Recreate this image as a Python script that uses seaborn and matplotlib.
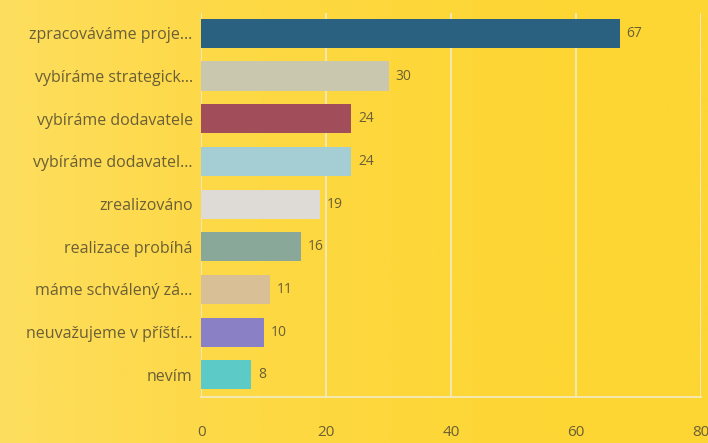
import pandas as pd
import numpy as np
import matplotlib.pyplot as plt
import seaborn as sns

# Survey answers (labels truncated as in the original chart)
labels = [
    'zpracováváme proje…',
    'vybíráme strategick…',
    'vybíráme dodavatele',
    'vybíráme dodavatel…',
    'zrealizováno',
    'realizace probíhá',
    'máme schválený zá…',
    'neuvažujeme v příští…',
    'nevím',
]
counts = [67, 30, 24, 24, 19, 16, 11, 10, 8]
bar_colors = ['#2b6180', '#c9c7ae', '#a24e5a', '#a4ced3', '#dedad6',
              '#8aa899', '#d9bf95', '#8a80c5', '#5ccbc7']
x_ticks = [0, 20, 40, 60, 80]

df = pd.DataFrame({'label': labels, 'count': counts})

bg = '#fdd633'
text_col = '#6a5f36'
grid_col = '#f3ecc8'

sns.set_style('white')
plt.rcParams['font.family'] = ['Open Sans', 'DejaVu Sans']

fig = plt.figure(figsize=(7.08, 4.43), dpi=100)
fig.patch.set_facecolor(bg)

# soft lighter glow on the left side of the background
grad = np.linspace(1, 0, 256).reshape(1, -1) ** 2
bg_ax = fig.add_axes([0, 0, 1, 1], zorder=-10)
bg_ax.imshow(grad, aspect='auto', cmap=sns.blend_palette([bg, '#fde06a'], as_cmap=True),
             extent=[0, 1, 0, 1], alpha=0.8)
bg_ax.axis('off')

ax = fig.add_axes([0.284, 0.104, 0.706, 0.867])
ax.set_facecolor('none')

sns.barplot(data=df, y='label', x='count', hue='label', palette=bar_colors,
            legend=False, width=0.68, ax=ax, saturation=1, linewidth=0)

for c in ax.containers:
    ax.bar_label(c, padding=5, fontsize=10, color=text_col)

ax.set_xlim(0, 80)
ax.set_ylim(8.52, -0.48)
ax.set_xticks(x_ticks)
ax.set_xlabel('')
ax.set_ylabel('')

ax.grid(axis='x', color=grid_col, linewidth=1.2)
ax.set_axisbelow(True)
for side in ['top', 'right', 'left']:
    ax.spines[side].set_visible(False)
ax.spines['bottom'].set_color(grid_col)
ax.spines['bottom'].set_linewidth(1.2)

ax.tick_params(axis='x', length=11, width=1.2, color=grid_col, pad=9,
               labelsize=11, labelcolor=text_col)
ax.tick_params(axis='y', length=0, pad=6, labelsize=11.5, labelcolor=text_col)

plt.savefig('out.png', dpi=100, facecolor=fig.get_facecolor())
